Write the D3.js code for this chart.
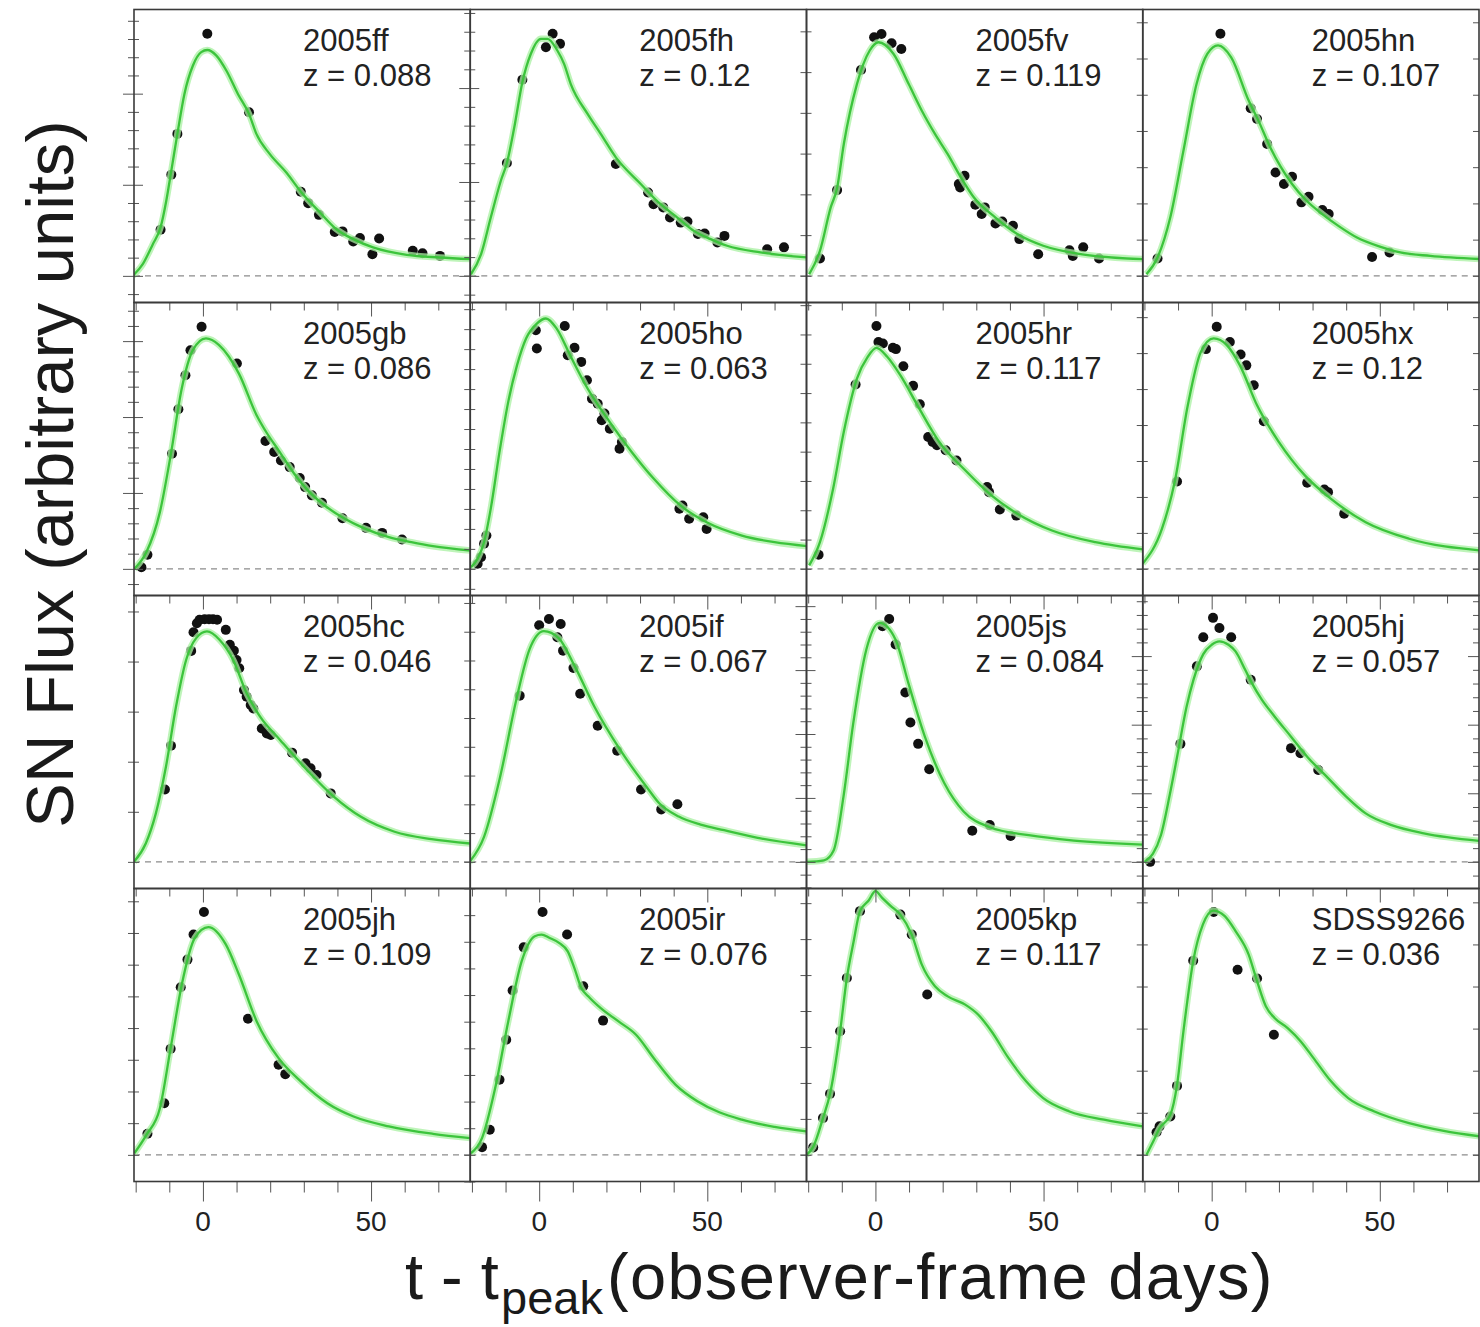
<!DOCTYPE html>
<html><head><meta charset="utf-8">
<script src="https://cdn.jsdelivr.net/npm/d3@7"></script>
<style>
body{margin:0;background:#fff}
text{font-family:"Liberation Sans",Arial,Helvetica,sans-serif}
</style>
</head><body>
<svg id="c" width="1480" height="1327"></svg>
<script>
// ---------- DATA ----------
const snNames = ["2005ff","2005fh","2005fv","2005hn","2005gb","2005ho","2005hr","2005hx",
                 "2005hc","2005if","2005js","2005hj","2005jh","2005ir","2005kp","SDSS9266"];
const snRedshifts = ["0.088","0.12","0.119","0.107","0.086","0.063","0.117","0.12",
                     "0.046","0.067","0.084","0.057","0.109","0.076","0.117","0.036"];
const xMinorTicks = [-20,-10,10,20,30,40,60,70];
const xTickLabels = [0, 50];
const yTickSteps = [0.0684,0.0705,0.153,0.136,0.057,0.075,0.110,0.135,0.188,0.108,0.048,0.0515,0.119,0.100,0.135,0.158];
const yTickMajorEvery = [5,5,0,0,5,0,0,0,0,0,5,5,0,0,0,0];

// observed points [days, flux]
const obs2005ff = [[-12.6,0.173],[-9.4,0.380],[-7.6,0.533],[1.3,0.909],[13.7,0.614],[29.1,0.316],[31.3,0.273],[34.5,0.229],[39.2,0.165],[41.5,0.167],[44.7,0.129],[46.7,0.142],[50.4,0.081],[52.4,0.140],[62.4,0.094],[65.3,0.085],[70.5,0.075]];
const obs2005fh = [[-9.6,0.424],[-5.0,0.736],[2.0,0.858],[4.0,0.909],[6.2,0.871],[22.8,0.420],[32.4,0.313],[34.0,0.269],[36.9,0.257],[38.9,0.219],[42.1,0.200],[44.1,0.204],[47.2,0.157],[49.2,0.159],[53.0,0.125],[55.1,0.150],[67.8,0.100],[72.8,0.107]];
const obs2005fv = [[-16.5,0.065],[-11.4,0.322],[-4.3,0.773],[-0.4,0.896],[1.8,0.908],[4.8,0.873],[7.7,0.852],[24.8,0.345],[26.5,0.376],[25.2,0.332],[29.7,0.267],[32.5,0.257],[31.6,0.232],[35.7,0.197],[37.7,0.204],[40.9,0.188],[42.8,0.138],[48.4,0.081],[57.7,0.096],[58.7,0.075],[61.8,0.107],[66.5,0.065]];
const obs2005hn = [[-16.1,0.065],[2.6,0.909],[11.6,0.629],[13.5,0.589],[16.5,0.495],[19.0,0.388],[21.5,0.345],[23.9,0.372],[26.7,0.276],[28.8,0.297],[32.9,0.247],[34.8,0.232],[47.7,0.071],[52.9,0.088]];
const obs2005gb = [[-18.3,0.006],[-16.5,0.053],[-9.2,0.432],[-7.3,0.599],[-5.2,0.727],[-3.7,0.821],[-0.4,0.909],[10.1,0.771],[18.6,0.480],[21.2,0.439],[23.2,0.407],[25.8,0.382],[28.8,0.341],[30.4,0.307],[32.4,0.276],[35.4,0.248],[41.5,0.190],[48.5,0.154],[53.3,0.135],[59.2,0.110]];
const obs2005ho = [[-18.3,0.019],[-17.3,0.044],[-16.4,0.094],[-15.7,0.125],[-1.0,0.896],[-0.7,0.827],[7.6,0.912],[8.5,0.802],[10.5,0.830],[12.5,0.777],[14.2,0.708],[15.7,0.639],[17.4,0.620],[19.4,0.583],[18.6,0.558],[21.0,0.526],[24.6,0.476],[23.9,0.451],[41.7,0.226],[42.6,0.238],[44.6,0.188],[48.8,0.194],[49.8,0.150]];
const obs2005hr = [[-16.9,0.053],[-5.9,0.692],[0.3,0.912],[0.9,0.852],[2.2,0.846],[5.2,0.830],[6.1,0.825],[8.3,0.761],[11.2,0.687],[13.2,0.618],[15.7,0.495],[17.0,0.476],[18.3,0.464],[20.9,0.445],[24.1,0.407],[33.2,0.307],[33.8,0.288],[37.0,0.223],[41.9,0.200]];
const obs2005hx = [[-10.3,0.328],[-1.7,0.825],[1.5,0.909],[5.4,0.852],[8.6,0.805],[10.3,0.764],[12.5,0.689],[15.5,0.554],[28.4,0.323],[33.5,0.298],[34.6,0.288],[39.4,0.207]];
const obs2005hc = [[-11.3,0.272],[-9.5,0.436],[-3.5,0.792],[-2.8,0.862],[-1.8,0.896],[-1.0,0.909],[0.5,0.911],[1.8,0.911],[3.0,0.911],[4.2,0.909],[6.8,0.871],[8.0,0.815],[9.2,0.793],[10.0,0.758],[10.8,0.727],[12.2,0.645],[13.0,0.620],[14.2,0.589],[15.0,0.576],[17.5,0.501],[19.0,0.482],[20.2,0.476],[26.5,0.410],[30.5,0.370],[32.0,0.351],[33.8,0.326],[38.0,0.257]];
const obs2005if = [[-5.8,0.624],[0.0,0.888],[2.9,0.912],[6.4,0.893],[5.4,0.843],[7.1,0.793],[10.2,0.728],[12.2,0.631],[17.4,0.511],[23.2,0.417],[30.3,0.272],[36.3,0.197],[41.1,0.216]];
const obs2005js = [[2.1,0.885],[4.1,0.912],[6.0,0.816],[8.9,0.636],[10.4,0.523],[12.7,0.443],[16.0,0.348],[28.8,0.117],[34.0,0.138],[40.2,0.097]];
const obs2005hj = [[-18.3,0.0],[-9.3,0.443],[-4.4,0.734],[-2.5,0.843],[0.4,0.916],[2.3,0.878],[5.8,0.843],[11.6,0.684],[23.6,0.427],[26.4,0.408],[31.7,0.345]];
const obs2005jh = [[-16.5,0.079],[-11.5,0.194],[-9.6,0.398],[-6.6,0.629],[-4.6,0.733],[-2.8,0.827],[0.3,0.912],[13.4,0.511],[22.5,0.338],[24.5,0.303]];
const obs2005ir = [[-17.0,0.029],[-14.7,0.094],[-11.8,0.282],[-9.8,0.432],[-7.9,0.617],[-4.6,0.779],[1.0,0.912],[8.3,0.827],[13.1,0.633],[19.0,0.504]];
const obs2005kp = [[-18.5,0.028],[-15.6,0.138],[-13.5,0.229],[-10.5,0.464],[-8.5,0.664],[-4.6,0.915],[7.4,0.902],[10.8,0.827],[15.4,0.602]];
const obsSDSS9266 = [[-16.4,0.085],[-15.5,0.107],[-12.3,0.144],[-10.3,0.259],[-5.5,0.729],[0.6,0.912],[7.7,0.695],[13.5,0.662],[18.5,0.451]];

// fitted template curves [days, flux]
const fit2005ff = [[-20.9,0.0],[-17.9,0.044],[-14.9,0.119],[-12.6,0.182],[-10.9,0.282],[-9.4,0.395],[-7.6,0.533],[-5.5,0.683],[-3,0.789],[-0.5,0.84],[1.3,0.848],[4,0.827],[7,0.77],[10.4,0.683],[13.7,0.608],[15.9,0.533],[19.9,0.457],[24.8,0.388],[29.3,0.313],[34.8,0.238],[39.7,0.175],[44.7,0.138],[50.6,0.107],[60.6,0.079],[70.5,0.069],[79.5,0.063]];
const fit2005fh = [[-20.3,0.006],[-17.3,0.081],[-14.4,0.219],[-11.4,0.357],[-9.6,0.424],[-7.4,0.558],[-5,0.727],[-2.5,0.833],[0.5,0.89],[2.5,0.89],[5.4,0.846],[7.4,0.796],[9.4,0.72],[14.4,0.608],[18.3,0.533],[22.8,0.445],[30.2,0.345],[36.1,0.269],[41.1,0.219],[46,0.169],[51,0.138],[55.9,0.113],[65.8,0.088],[79.7,0.069]];
const fit2005fv = [[-19.7,0.006],[-16.5,0.094],[-13.3,0.257],[-11.4,0.33],[-9.4,0.495],[-5.5,0.72],[-1.7,0.846],[0.9,0.877],[5.4,0.833],[9.9,0.72],[13.8,0.62],[17.7,0.533],[21.5,0.457],[25.4,0.37],[29.3,0.294],[35.7,0.219],[42.2,0.157],[49.9,0.113],[61.5,0.081],[79.5,0.063]];
const fit2005hn = [[-19.4,0.006],[-16.1,0.069],[-12.3,0.22],[-8.4,0.47],[-4.5,0.72],[-1.3,0.833],[1.9,0.865],[5.8,0.82],[11,0.658],[14,0.58],[17.4,0.483],[20.5,0.41],[23.9,0.345],[28,0.285],[32.9,0.232],[38,0.185],[43.2,0.144],[50,0.11],[56.1,0.088],[65,0.075],[80,0.063]];
const fit2005gb = [[-20.4,0.0],[-16.8,0.063],[-12.8,0.213],[-9.6,0.426],[-6.3,0.677],[-3,0.821],[0.9,0.865],[4.8,0.840],[10.7,0.733],[16,0.576],[19,0.51],[22.5,0.445],[27,0.36],[31.7,0.288],[36.5,0.235],[42.2,0.188],[48,0.152],[55.3,0.119],[62,0.1],[68.4,0.085],[79.5,0.069]];
const fit2005ho = [[-20.3,0.006],[-18.3,0.038],[-16.4,0.1],[-14.4,0.226],[-11.8,0.439],[-9.2,0.627],[-6.6,0.764],[-3.9,0.865],[-0.7,0.921],[2,0.94],[5.2,0.902],[9.2,0.802],[14.4,0.677],[21,0.551],[27.5,0.439],[34.1,0.338],[42,0.238],[49.8,0.175],[60.3,0.125],[70,0.1],[79.9,0.085]];
const fit2005hr = [[-19.7,0.013],[-16.5,0.1],[-12.6,0.30],[-9.4,0.515],[-5.5,0.714],[-2.3,0.796],[0.3,0.830],[3.5,0.796],[7.4,0.727],[12.5,0.614],[19,0.476],[26.7,0.37],[34.5,0.276],[42.2,0.207],[52.5,0.144],[65.4,0.10],[79.5,0.073]];
const fit2005hx = [[-20.5,0.02],[-14.8,0.15],[-11,0.326],[-7.1,0.614],[-3.2,0.815],[0.6,0.865],[4.5,0.84],[8.4,0.764],[13.5,0.614],[20,0.476],[27.7,0.351],[35.5,0.263],[45.8,0.175],[58.7,0.113],[80,0.069]];
const fit2005hc = [[-20.5,0.0],[-17,0.069],[-14,0.182],[-11,0.357],[-8,0.583],[-5,0.758],[-2,0.840],[1.2,0.865],[5,0.833],[9,0.758],[13,0.633],[17,0.545],[23,0.457],[31,0.344],[39,0.244],[47,0.169],[57,0.113],[68,0.085],[79.5,0.069]];
const fit2005if = [[-20.7,0.0],[-16.4,0.094],[-11.6,0.32],[-6.8,0.609],[-2.9,0.797],[1.4,0.866],[5.8,0.840],[10.6,0.734],[16.4,0.583],[24.1,0.420],[31.9,0.282],[35.7,0.22],[41.5,0.17],[48,0.14],[55,0.119],[65,0.09],[79.5,0.062]];
const fit2005js = [[-20.5,0.0],[-15.3,0.006],[-12.4,0.044],[-9.5,0.245],[-6.6,0.52],[-2.7,0.797],[1.2,0.897],[6,0.834],[9.8,0.671],[14.7,0.47],[20.5,0.295],[26.3,0.188],[34,0.13],[45.6,0.1],[59,0.08],[79.5,0.065]];
const fit2005hj = [[-20,0.0],[-17.5,0.03],[-15.1,0.1],[-12.5,0.25],[-10.2,0.4],[-7.5,0.58],[-5.4,0.684],[-2.5,0.78],[0,0.815],[2.3,0.828],[5,0.815],[7.1,0.79],[10,0.72],[12,0.67],[14.9,0.609],[18.7,0.546],[23.6,0.47],[28.4,0.395],[34.2,0.32],[40,0.245],[45.8,0.182],[53.5,0.138],[63.1,0.107],[79.5,0.079]];
const fit2005jh = [[-20.4,0.006],[-16.8,0.075],[-12.8,0.175],[-9.6,0.401],[-6.3,0.639],[-2.4,0.815],[1.6,0.855],[6.8,0.79],[10.7,0.677],[16,0.501],[22.5,0.363],[29.1,0.276],[37,0.194],[44.8,0.144],[55.3,0.107],[68.4,0.079],[79.5,0.063]];
const fit2005ir = [[-20.3,0.006],[-17,0.063],[-13.1,0.25],[-9.2,0.501],[-5.2,0.727],[-1.3,0.821],[0.7,0.827],[3,0.815],[5.9,0.796],[8.5,0.764],[10.5,0.70],[12.5,0.627],[15,0.59],[18.3,0.551],[23.6,0.501],[28.8,0.451],[34.1,0.363],[40.6,0.263],[47.2,0.20],[60.3,0.132],[70,0.105],[79.5,0.088]];
const fit2005kp = [[-20.5,0.0],[-18.5,0.03],[-15.6,0.138],[-13.5,0.229],[-10.5,0.464],[-8.5,0.664],[-6.5,0.8],[-4.6,0.915],[-2,0.955],[0,0.99],[2,0.965],[4.5,0.935],[7.4,0.902],[10.8,0.827],[13.8,0.714],[17.7,0.633],[21.5,0.595],[26.7,0.564],[30.6,0.526],[34.5,0.464],[39.6,0.363],[44.8,0.276],[49.9,0.213],[57.7,0.163],[68,0.132],[79.5,0.107]];
const fitSDSS9266 = [[-19.4,0.0],[-17.4,0.05],[-15.5,0.1],[-12.3,0.15],[-10.3,0.263],[-8.4,0.464],[-5.5,0.727],[-2.6,0.865],[0.4,0.917],[3.9,0.896],[7.1,0.84],[11,0.752],[13.5,0.652],[16.1,0.558],[18.7,0.514],[22.6,0.476],[26.5,0.426],[30.3,0.363],[35.5,0.276],[40.6,0.213],[48.4,0.163],[58.7,0.119],[69,0.09],[80,0.069]];

const obsList = [obs2005ff,obs2005fh,obs2005fv,obs2005hn,obs2005gb,obs2005ho,obs2005hr,obs2005hx,
                 obs2005hc,obs2005if,obs2005js,obs2005hj,obs2005jh,obs2005ir,obs2005kp,obsSDSS9266];
const fitList = [fit2005ff,fit2005fh,fit2005fv,fit2005hn,fit2005gb,fit2005ho,fit2005hr,fit2005hx,
                 fit2005hc,fit2005if,fit2005js,fit2005hj,fit2005jh,fit2005ir,fit2005kp,fitSDSS9266];

// ---------- DRAW ----------
const svg = d3.select('#c');
const W = 336.25, H = 293, X0 = 134, Y0 = 9.5;
const x = d3.scaleLinear().domain([-20.5, 79.5]).range([0, W]);
const y = d3.scaleLinear().domain([-0.1, 1.0]).range([H, 0]);
const line = d3.line().x(d => x(d[0])).y(d => y(d[1])).curve(d3.curveMonotoneX);
const TICK = '#555';

function styleAxis(sel){
  sel.select('.domain').remove();
  sel.selectAll('line').attr('stroke', TICK).attr('stroke-width', 1);
}
function yTickVals(step, major){
  const ks = d3.range(Math.ceil(-0.1/step - 1e-9), Math.floor(1.0/step + 1e-9) + 1);
  const minor = [], maj = [];
  ks.forEach(k => { (major && k % major === 0 ? maj : minor).push(k*step); });
  return {minor, maj};
}

snNames.forEach((name, i) => {
  const col = i % 4, row = Math.floor(i / 4);
  const g = svg.append('g').attr('transform', `translate(${X0 + col*W},${Y0 + row*H})`);
  const cid = 'clip' + i;
  g.append('clipPath').attr('id', cid).append('rect').attr('width', W).attr('height', H);
  const inner = g.append('g').attr('clip-path', `url(#${cid})`);

  inner.append('line').attr('x1', 0).attr('x2', W).attr('y1', y(0)).attr('y2', y(0))
    .attr('stroke', '#8c8c8c').attr('stroke-width', 1.2).attr('stroke-dasharray', '6,5');

  inner.selectAll('circle').data(obsList[i]).join('circle')
    .attr('cx', d => x(d[0])).attr('cy', d => y(d[1])).attr('r', 5).attr('fill', '#111');

  inner.append('path').datum(fitList[i]).attr('d', line).attr('fill', 'none')
    .attr('stroke', '#a8f0a2').attr('stroke-width', 6.5).attr('stroke-opacity', 0.75);
  inner.append('path').datum(fitList[i]).attr('d', line).attr('fill', 'none')
    .attr('stroke', '#3cc43c').attr('stroke-width', 2.3);

  const lab = g.append('text').attr('font-size', 31).attr('fill', '#222');
  lab.append('tspan').attr('x', 169).attr('y', 41).text(name);
  lab.append('tspan').attr('x', 169).attr('y', 76).text('z = ' + snRedshifts[i]);
});

// ticks and frames on top
snNames.forEach((name, i) => {
  const col = i % 4, row = Math.floor(i / 4);
  const g = svg.append('g').attr('transform', `translate(${X0 + col*W},${Y0 + row*H})`);
  const last = row === 3;
  g.append('g').attr('transform', `translate(0,${H})`)
    .call(d3.axisBottom(x).tickValues(xMinorTicks).tickSize(last ? 11 : 8).tickFormat(''))
    .call(styleAxis);
  g.append('g').attr('transform', `translate(0,${H})`)
    .call(d3.axisBottom(x).tickValues(xTickLabels).tickSize(last ? 20 : 14).tickFormat(''))
    .call(styleAxis);
  const tv = yTickVals(yTickSteps[i], yTickMajorEvery[i]);
  g.append('g').call(d3.axisLeft(y).tickValues(tv.minor).tickSize(6).tickFormat('')).call(styleAxis);
  g.append('g').call(d3.axisRight(y).tickValues(tv.minor).tickSize(5).tickFormat('')).call(styleAxis);
  g.append('g').call(d3.axisLeft(y).tickValues(tv.maj).tickSize(11).tickFormat('')).call(styleAxis);
  g.append('g').call(d3.axisRight(y).tickValues(tv.maj).tickSize(9).tickFormat('')).call(styleAxis);
  if (col === 3) {
    g.append('g').attr('transform', `translate(${W},0)`)
      .call(d3.axisLeft(y).tickValues(tv.minor).tickSize(6).tickFormat('')).call(styleAxis);
    g.append('g').attr('transform', `translate(${W},0)`)
      .call(d3.axisLeft(y).tickValues(tv.maj).tickSize(11).tickFormat('')).call(styleAxis);
  }
  g.append('rect').attr('width', W).attr('height', H).attr('fill', 'none')
    .attr('stroke', '#3a3a3a').attr('stroke-width', 1.6);
  if (last) {
    g.selectAll('text.xl').data(xTickLabels).join('text').attr('class', 'xl')
      .attr('x', d => x(d)).attr('y', H + 49.5).attr('text-anchor', 'middle')
      .attr('font-size', 28).attr('fill', '#222').text(d => d);
  }
});

// axis titles
svg.append('text').attr('transform', 'translate(73,474) rotate(-90)')
  .attr('text-anchor', 'middle').attr('font-size', 67).attr('fill', '#1a1a1a')
  .text('SN Flux (arbitrary units)');

const xt = svg.append('text').attr('y', 1299).attr('font-size', 65).attr('fill', '#1a1a1a');
xt.append('tspan').attr('x', 405).text('t - t');
xt.append('tspan').attr('x', 501).attr('y', 1314).attr('font-size', 47).text('peak');
xt.append('tspan').attr('x', 607).attr('y', 1299).attr('letter-spacing', 1.3).text('(observer-frame days)');
</script>
</body></html>
